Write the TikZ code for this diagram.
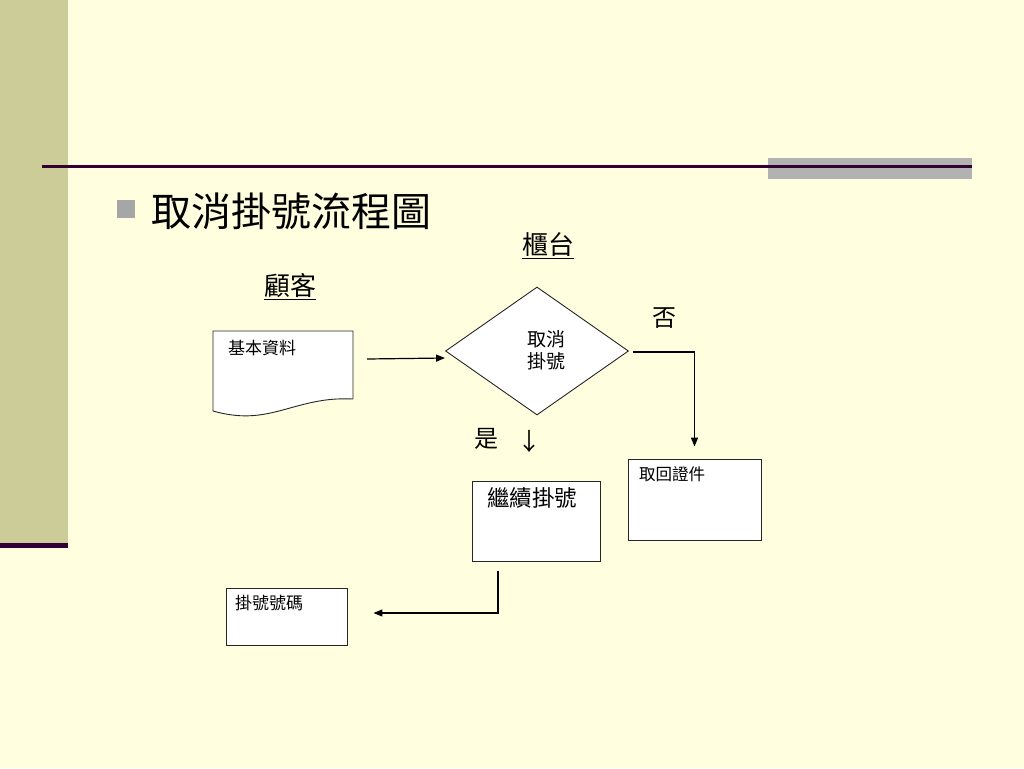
\documentclass[tikz,border=0pt]{standalone}
\usepackage{fontspec}
\setmainfont{Noto Sans CJK TC}
\usetikzlibrary{shapes.geometric,arrows.meta,calc}
\definecolor{bgc}{HTML}{FFFFE0}
\definecolor{barc}{HTML}{CCCC99}
\definecolor{darkc}{HTML}{330033}
\definecolor{grayc}{HTML}{B2B2B2}
\definecolor{bulletc}{HTML}{A6A6A6}
\begin{document}
\begin{tikzpicture}[x=1pt,y=-1pt,
  box/.style={draw=black!85, line width=0.9pt, fill=white, rectangle, inner sep=0pt},
  arr/.style={line width=1.2pt, -{Triangle[length=9pt,width=7pt]}},
  lbl/.style={inner sep=0pt},
]
\useasboundingbox (0,0) rectangle (1024,768);
\fill[bgc] (0,0) rectangle (1024,768);
% slide decorations
\fill[barc] (0,0) rectangle (68,543);
\fill[darkc] (0,543) rectangle (68,548);
\fill[grayc] (768,158) rectangle (972,179);
\draw[darkc, line width=2.2pt] (42,166.5) -- (972,166.5);
\fill[bulletc] (117,200) rectangle (135,218);
\node[lbl, font=\fontsize{40}{48}\selectfont, anchor=west] (title) at (151,211) {取消掛號流程圖};
% headings
\node[lbl, font=\fontsize{26}{30}\selectfont] (counter) at (548,246) {\underline{櫃台}};
\node[lbl, font=\fontsize{26}{30}\selectfont] (cust) at (290,287) {\underline{顧客}};
% document shape
\node[minimum width=140pt, minimum height=80pt, inner sep=0pt] (doc) at (283,371) {};
\draw[draw=black!85, line width=0.9pt, fill=white] (213,331) -- (353,331) -- (353,399)
  .. controls (330,398) and (315,401) .. (290,408)
  .. controls (265,415) and (245,420) .. (213,411) -- cycle;
\node[lbl, anchor=north west, font=\fontsize{17}{20}\selectfont] (doct) at (228,340) {基本資料};
% decision
\node[draw=black!85, line width=0.9pt, fill=white, diamond, minimum width=183pt, minimum height=128pt, inner sep=0pt] (dia) at (537,351) {};
\node[lbl, align=center, font=\fontsize{19}{22.5}\selectfont] (diat) at (546,350.5) {取消\\掛號};
% boxes
\node[box, minimum width=128pt, minimum height=80pt] (cont) at (536,521) {};
\node[box, minimum width=133pt, minimum height=81pt] (ret) at (694.5,499.5) {};
\node[box, minimum width=121pt, minimum height=57pt] (num) at (286.5,616.5) {};
\node[lbl, anchor=north west, font=\fontsize{22.5}{26}\selectfont] (contt) at (487,487) {繼續掛號};
\node[lbl, anchor=north west, font=\fontsize{16.5}{20}\selectfont] (rett) at (639,466) {取回證件};
\node[lbl, anchor=north west, font=\fontsize{17}{20}\selectfont] (numt) at (235,595) {掛號號碼};
% labels
\node[lbl, font=\fontsize{24}{28}\selectfont] (no) at (664,318) {否};
\node[lbl, font=\fontsize{24}{28}\selectfont] (yes) at (486,439) {是};
\node[lbl, font=\fontsize{24}{28}\selectfont] (yesarrow) at (529,441) {↓};
% connectors
\draw[arr] ($(doc.east)+(14,-12)$) -- ($(dia.west)+(0,7)$);
\draw[arr] ($(dia.east)+(4,1)$) -| ($(ret.north)+(0,-12)$);
\draw[arr] ($(cont.south)+(-38,10)$) |- ($(num.east)+(26,-3.5)$);
\end{tikzpicture}
\end{document}
